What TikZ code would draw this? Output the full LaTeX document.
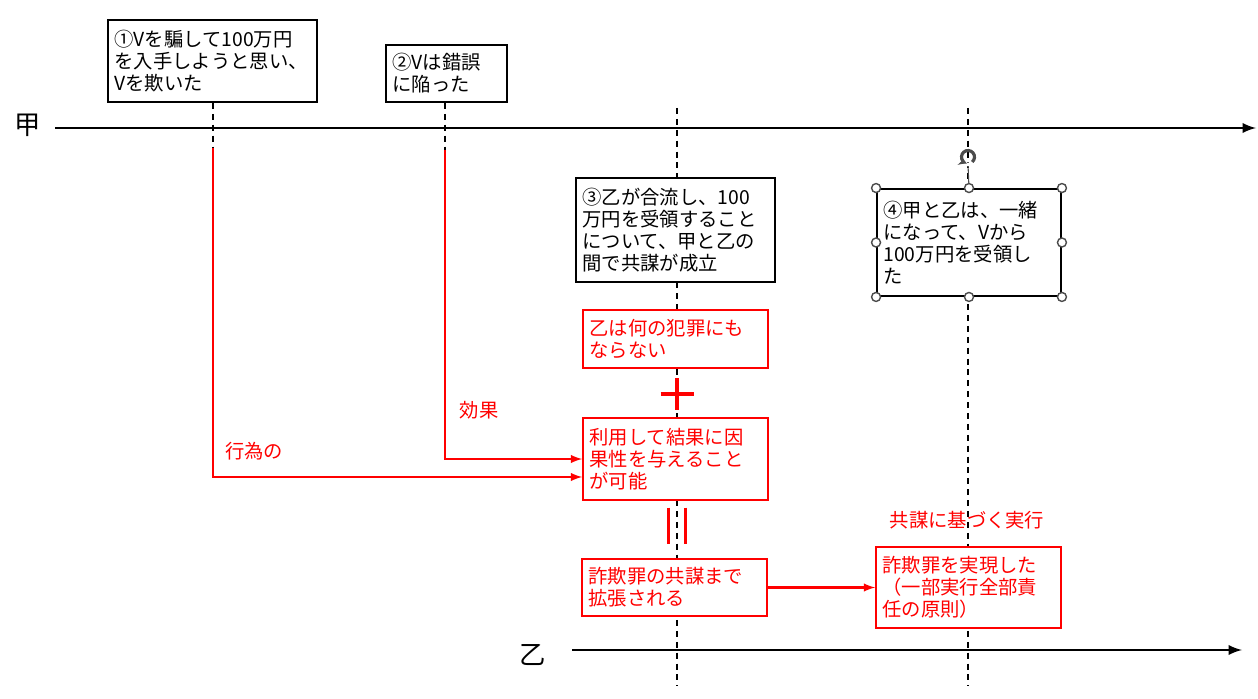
\documentclass[tikz,border=0pt]{standalone}
\usepackage{fontspec}
\setmainfont{Noto Sans CJK JP}
\usetikzlibrary{positioning}
\usetikzlibrary{arrows.meta}
\tikzset{
    blackbox/.style = {rectangle, draw=black, line width=1.1pt, fill=white, align=left, inner xsep=0.13cm, font=\fontsize{11pt}{12.6pt}\selectfont},
    redbox/.style = {blackbox, draw=red, text=red},
    redlabel/.style = {text=red, font=\fontsize{11pt}{12.6pt}\selectfont},
    axislabel/.style = {font=\fontsize{15pt}{17pt}\selectfont},
    axisline/.style = {-latex, line width=1.6pt},
    dashline/.style = {line width=1.1pt, dash pattern=on 3.4pt off 2.8pt},
    edger/.style = {-latex, line width=1.2pt, red},
    markr/.style = {line width=1.8pt, red},
    handle/.style = {draw=gray!60!black, fill=white, line width=0.8pt},
}
\begin{document}
\begin{tikzpicture}[x=0.02cm, y=-0.02cm]
\useasboundingbox (0,0) rectangle (1258,699);
%
% time axes
\node[axislabel] at (28,125) (jia) {甲};
\node[axislabel] at (533,655) (yi) {乙};
\coordinate (s1) at (55,128);
\coordinate (e1) at (1256,128);
\coordinate (s2) at (572,650);
\coordinate (e2) at (1242,650);
\coordinate (t3) at (677,108);
\coordinate (u3) at (677,686);
\coordinate (t4) at (968,108);
\coordinate (u4) at (968,686);
\draw[dashline] (t3) -- (u3);
\draw[dashline] (t4) -- (u4);
\draw[axisline] (s1) -- (e1);
\draw[axisline] (s2) -- (e2);
%
% steps
\node[blackbox, text width=3.92cm, minimum height=1.64cm] at (212.5,61) (k1) {①Vを騙して100万円\\を入手しようと思い、\\Vを欺いた};
\node[blackbox, text width=2.16cm, minimum height=1.14cm] at (446.5,73.5) (k2) {②Vは錯誤\\に陥った};
\node[blackbox, text width=3.72cm, minimum height=2.08cm] at (675.5,230) (k3) {③乙が合流し、100\\万円を受領すること\\について、甲と乙の\\間で共謀が成立};
\node[blackbox, text width=3.42cm, minimum height=2.14cm] at (969,242.5) (k4) {④甲と乙は、一緒\\になって、Vから\\100万円を受領し\\た};
%
% selection handles of step 4
\coordinate (rot) at (968,157);
\draw[gray!60!black, line width=0.6pt] ([yshift=-0.15cm]rot) -- (k4.north);
\draw[white, line width=2pt] (rot) circle (0.15cm);
\draw[gray!60!black, line width=1.8pt, -{Stealth[length=4pt,width=5pt]}] (rot) ++(-50:0.13cm) arc (-50:250:0.13cm);
\foreach \p in {north west, north, north east, east, south east, south, south west, west}
    \draw[handle] (k4.\p) circle (0.09cm);
%
% results
\node[redbox, text width=3.44cm, minimum height=1.16cm] at (675.5,339) (r1) {乙は何の犯罪にも\\ならない};
\node[redbox, text width=3.44cm, minimum height=1.64cm] at (675.5,459) (r2) {利用して結果に因\\果性を与えること\\が可能};
\node[redbox, text width=3.44cm, minimum height=1.14cm] at (674.5,587.5) (r3) {詐欺罪の共謀まで\\拡張される};
\node[redbox, text width=3.44cm, minimum height=1.62cm] at (968.5,587.5) (r4) {詐欺罪を実現した\\（一部実行全部責\\任の原則）};
%
\node[redlabel] at (254,451) (l1) {行為の};
\node[redlabel] at (479,410) (l2) {効果};
\node[redlabel] at (967,520) (l3) {共謀に基づく実行};
%
% connectors
\coordinate (p1) at (213,148);
\coordinate (p2) at (445,150);
\draw[dashline] (k1.south -| p1) -- (p1);
\draw[dashline] (k2.south -| p2) -- (p2);
\draw[edger] (p1) |- ([yshift=-0.36cm]r2.west);
\draw[edger] (p2) |- (r2.west);
\draw[edger] (r3) -- (r4);
%
% plus and equals marks
\coordinate (pl) at (677,394);
\draw[markr] ([xshift=-0.33cm]pl) -- ([xshift=0.33cm]pl);
\draw[markr] ([yshift=0.32cm]pl) -- ([yshift=-0.32cm]pl);
\coordinate (eq) at (677,526);
\draw[markr] ([xshift=-0.17cm,yshift=0.37cm]eq) -- ([xshift=-0.17cm,yshift=-0.37cm]eq);
\draw[markr] ([xshift=0.17cm,yshift=0.37cm]eq) -- ([xshift=0.17cm,yshift=-0.37cm]eq);

\end{tikzpicture}
\end{document}
